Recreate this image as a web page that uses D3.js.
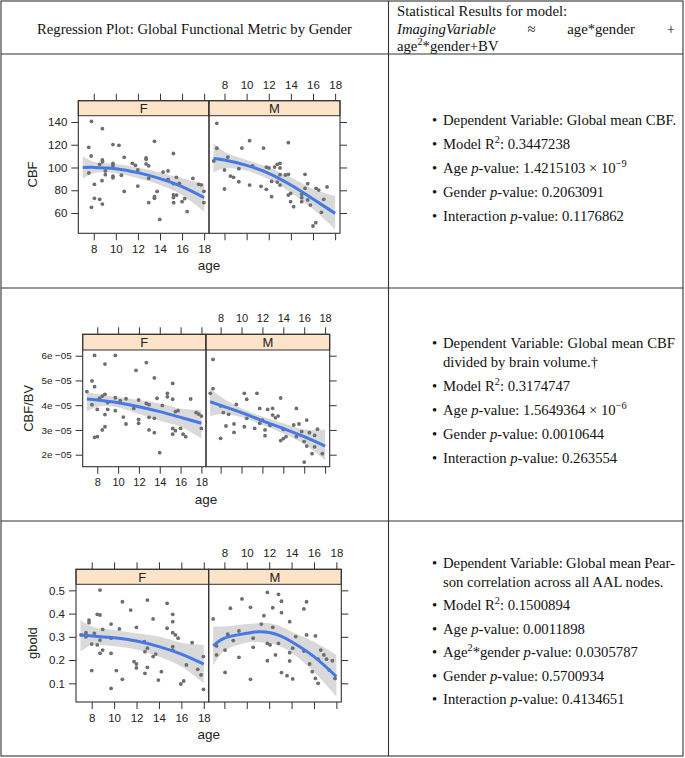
<!DOCTYPE html>
<html><head><meta charset="utf-8">
<script src="https://cdn.jsdelivr.net/npm/d3@7"></script>
<style>body{margin:0;background:#fff}svg{display:block}</style>
</head><body>
<svg id="c" width="685" height="758"></svg>
<script>
// ---------------- DATA ----------------
const genders = ["F", "M"];
const xTicks = [8, 10, 12, 14, 16, 18];
const cbfTicks = [60, 80, 100, 120, 140];
const cbfbvTicks = [2e-5, 3e-5, 4e-5, 5e-5, 6e-5];
const gboldTicks = [0.1, 0.2, 0.3, 0.4, 0.5];

// Panel 1: CBF [age, value]
const cbfF = [[7.79,140.6],[7.55,117.7],[7.76,110.1],[7.55,95.2],[8.06,85.2],[7.79,65],[8.06,72.9],[8.54,72],[8.78,134.1],[8.78,106.6],[8.8,105],[8.54,102.8],[8.75,88.4],[8.78,67.9],[9.05,97],[9.05,93.7],[9.74,120.1],[10.28,119.5],[9.74,103.7],[9.74,101.8],[9.74,92.5],[9.74,91],[10.5,93.2],[10.76,108.9],[10.76,79],[11.5,103.7],[11.78,101.9],[11.99,97.8],[11.99,83.7],[12.74,108.4],[12.74,107.2],[12.74,103.1],[12.98,101.5],[12.98,90.5],[12.98,69.2],[13.5,123],[13.5,74.3],[13.5,72.9],[13.74,79],[13.98,54.4],[14.28,96],[14.73,97],[14.73,89.6],[15.22,112.3],[15.22,85.8],[15.22,76],[15.22,73.6],[15.24,69.1],[15.48,91.4],[15.5,75.8],[15.75,86.1],[16,70],[16.24,72.7],[16.46,61.3],[16.98,90.4],[17.5,85.2],[17.74,84.8],[17.98,79.1],[17.98,69.2]];
const cbfM = [[7.31,138.8],[7.31,116.9],[7.03,105.7],[8.3,109.2],[8.0,97.8],[8.0,81.1],[8.54,92.5],[8.82,91.4],[9.3,87.5],[9.57,117.1],[9.3,99],[10.27,123.6],[10.27,84.6],[10.54,101.3],[11.3,83.5],[11.53,117.1],[11.78,100.4],[11.78,80.8],[12.02,99.6],[12.26,87.8],[12.26,74.4],[12.53,100.4],[12.77,102.8],[12.77,87.2],[13.02,103.7],[13.02,99.6],[13.02,93.7],[13.02,84.6],[13.5,93.4],[13.77,121.8],[13.77,94],[13.77,75.8],[13.98,77.3],[13.98,70],[14.25,65.6],[14.98,76.4],[14.98,73.5],[14.98,70],[15.28,94],[15.28,81.7],[15.52,85.8],[15.52,71.5],[15.76,67],[16.28,81.7],[16.52,80.2],[16.0,48.6],[16.25,51.5],[16.76,60.6],[16.97,72],[17.27,82.9]];
const fitAge = [7, 8, 10, 12, 14, 16, 18];
const cbfFitF = [99.9, 100.1, 99.0, 95.5, 90.2, 83.2, 73.5];
const cbfLoF  = [89.9, 95.0, 95.0, 90.5, 84.6, 75.8, 61.2];
const cbfHiF  = [109.8, 105.0, 103.0, 100.0, 95.7, 90.5, 85.5];
const cbfFitM = [108.0, 106.6, 101.9, 94.9, 84.6, 72.3, 59.7];
const cbfLoM  = [95.5, 99.3, 97.2, 89.6, 77.9, 63.5, 45.6];
const cbfHiM  = [121.2, 113.9, 106.6, 100.1, 91.4, 81.1, 75.0];

// Panel 2: CBF/BV [age, value]
const cbfbvF = [[7.0,4.55e-5],[7.49,4.98e-5],[7.74,4.75e-5],[7.49,4.02e-5],[7.74,6.01e-5],[8.0,3.83e-5],[7.74,2.70e-5],[8.0,2.73e-5],[8.22,4.28e-5],[8.48,4.37e-5],[8.74,4.44e-5],[8.74,5.66e-5],[8.74,3.62e-5],[8.74,3.13e-5],[8.48,3.0e-5],[9.0,3.83e-5],[9.0,4.1e-5],[9.73,6.01e-5],[9.73,4.3e-5],[9.73,3.78e-5],[10.2,4.18e-5],[10.76,4.26e-5],[10.5,3.52e-5],[10.76,3.24e-5],[11.5,3.87e-5],[11.72,5.41e-5],[11.97,4.21e-5],[11.97,3.43e-5],[11.97,3.27e-5],[12.71,5.72e-5],[12.71,4.07e-5],[12.97,4.02e-5],[12.97,3.51e-5],[12.97,3.0e-5],[13.48,5.1e-5],[13.48,3.47e-5],[13.48,2.89e-5],[13.74,4.28e-5],[13.99,2.08e-5],[14.25,3.99e-5],[14.73,4.48e-5],[14.73,4.34e-5],[15.24,4.88e-5],[15.24,4.24e-5],[15.24,3.06e-5],[15.24,2.83e-5],[15.5,3.74e-5],[15.76,3.78e-5],[15.5,2.97e-5],[16.0,3.06e-5],[16.24,2.83e-5],[16.49,2.73e-5],[16.97,4.25e-5],[17.49,3.7e-5],[17.74,3.64e-5],[18.0,3.56e-5],[18.0,3.06e-5]];
const cbfbvM = [[7.27,5.85e-5],[7.27,4.67e-5],[7.01,4.48e-5],[8.0,3.97e-5],[8.0,2.66e-5],[8.26,3.7e-5],[8.51,3.16e-5],[8.77,3.63e-5],[9.28,3.24e-5],[9.28,2.9e-5],[9.5,4.03e-5],[10.27,4.48e-5],[10.27,3.13e-5],[10.5,4.24e-5],[10.5,3.47e-5],[11.26,3.06e-5],[11.48,4.48e-5],[11.74,3.87e-5],[11.74,3.27e-5],[12.0,3.4e-5],[12.25,3.0e-5],[12.25,2.77e-5],[12.5,3.83e-5],[12.73,3.19e-5],[12.98,3.87e-5],[12.98,3.6e-5],[13.24,3.49e-5],[13.5,3.56e-5],[13.75,4.29e-5],[13.75,2.57e-5],[14.0,2.65e-5],[14.26,2.73e-5],[14.0,3.02e-5],[15.0,3.2e-5],[15.25,3.87e-5],[15.25,2.73e-5],[15.5,3.24e-5],[15.76,2.93e-5],[15.99,2.53e-5],[16.24,3.4e-5],[16.24,2.35e-5],[16.5,2.89e-5],[16.0,1.70e-5],[16.75,2.04e-5],[17.0,2.78e-5],[17.27,3.03e-5],[17.0,2.32e-5],[17.74,2.04e-5]];
const cbfbvFitF = [4.25e-5, 4.21e-5, 4.10e-5, 3.94e-5, 3.74e-5, 3.51e-5, 3.27e-5];
const cbfbvLoF  = [3.74e-5, 3.94e-5, 3.91e-5, 3.64e-5, 3.37e-5, 3.13e-5, 2.66e-5];
const cbfbvHiF  = [4.55e-5, 4.44e-5, 4.32e-5, 4.21e-5, 4.07e-5, 3.87e-5, 3.80e-5];
const cbfbvFitM = [4.14e-5, 3.99e-5, 3.70e-5, 3.37e-5, 3.06e-5, 2.73e-5, 2.35e-5];
const cbfbvLoM  = [3.54e-5, 3.64e-5, 3.51e-5, 3.20e-5, 2.86e-5, 2.43e-5, 1.78e-5];
const cbfbvHiM  = [4.68e-5, 4.34e-5, 3.87e-5, 3.54e-5, 3.27e-5, 3.02e-5, 3.02e-5];

// Panel 3: gbold [age, value]
const gboldF = [[7.05,0.308],[7.49,0.30],[7.49,0.318],[7.76,0.372],[7.76,0.361],[8.0,0.269],[8.0,0.155],[8.24,0.315],[8.5,0.397],[8.74,0.501],[8.74,0.394],[8.74,0.286],[8.5,0.265],[8.74,0.229],[8.98,0.332],[8.98,0.243],[9.73,0.355],[9.73,0.294],[9.73,0.229],[9.73,0.078],[10.2,0.155],[10.47,0.334],[10.74,0.451],[10.74,0.117],[11.48,0.415],[11.78,0.193],[11.99,0.341],[11.99,0.183],[11.99,0.166],[12.7,0.279],[12.97,0.458],[12.75,0.236],[12.97,0.251],[12.75,0.143],[12.97,0.169],[13.48,0.377],[13.48,0.215],[13.71,0.226],[13.95,0.114],[14.22,0.15],[14.73,0.444],[14.73,0.337],[15.23,0.397],[15.23,0.365],[15.23,0.318],[15.23,0.258],[15.23,0.243],[15.47,0.308],[15.71,0.294],[15.95,0.097],[16.21,0.11],[16.45,0.179],[16.96,0.275],[17.46,0.16],[17.76,0.136],[17.97,0.215],[17.97,0.074]];
const gboldM = [[7.0,0.377],[7.3,0.261],[7.3,0.222],[8.06,0.243],[8.06,0.147],[8.3,0.311],[8.54,0.423],[8.79,0.284],[9.3,0.325],[9.3,0.212],[9.57,0.463],[10.33,0.427],[10.33,0.117],[10.57,0.294],[10.57,0.255],[11.3,0.355],[11.53,0.391],[11.84,0.491],[11.84,0.272],[11.84,0.197],[12.08,0.265],[12.32,0.425],[12.32,0.341],[12.56,0.222],[12.83,0.483],[12.83,0.272],[13.1,0.453],[13.1,0.404],[13.1,0.146],[13.59,0.133],[13.83,0.365],[13.83,0.232],[13.83,0.196],[14.1,0.251],[14.1,0.119],[14.37,0.301],[15.1,0.42],[15.1,0.239],[15.34,0.451],[15.34,0.308],[15.61,0.183],[15.85,0.15],[16.13,0.304],[16.13,0.121],[16.37,0.204],[16.37,0.1],[16.61,0.243],[16.88,0.222],[17.12,0.204],[17.64,0.197],[17.88,0.121],[17.37,0.157]];
const gboldFitF = [0.308, 0.304, 0.296, 0.282, 0.258, 0.226, 0.183];
const gboldLoF  = [0.236, 0.265, 0.260, 0.246, 0.215, 0.172, 0.100];
const gboldHiF  = [0.372, 0.344, 0.329, 0.315, 0.301, 0.275, 0.265];
const fitAgeM3  = [7, 8, 10, 11, 12, 13, 14, 16, 18];
const gboldFitM = [0.261, 0.294, 0.315, 0.322, 0.319, 0.304, 0.279, 0.215, 0.129];
const gboldLoM  = [0.175, 0.240, 0.275, 0.277, 0.272, 0.258, 0.232, 0.150, 0.043];
const gboldHiM  = [0.344, 0.344, 0.355, 0.358, 0.358, 0.345, 0.322, 0.279, 0.222];

// Table text
const headerLeft = "Regression Plot: Global Functional Metric by Gender";
const headerRight1 = "Statistical Results for model:";
const headerRight2 = ["_ImagingVariable_", "≈", "age*gender", "+"];
const headerRight3 = "age^2^*gender+BV";
const statsCBF = ["Dependent Variable: Global mean CBF.", "Model R^2^: 0.3447238", "Age _p_-value: 1.4215103 × 10^−9^", "Gender _p_-value: 0.2063091", "Interaction _p_-value: 0.1176862"];
const statsCBFBV = [["Dependent Variable: Global mean CBF", "divided by brain volume.†"], "Model R^2^: 0.3174747", "Age _p_-value: 1.5649364 × 10^−6^", "Gender _p_-value: 0.0010644", "Interaction _p_-value: 0.263554"];
const statsGbold = [["Dependent Variable: Global mean Pear-", "son correlation across all AAL nodes."], "Model R^2^: 0.1500894", "Age _p_-value: 0.0011898", "Age^2^*gender _p_-value: 0.0305787", "Gender _p_-value: 0.5700934", "Interaction _p_-value: 0.4134651"];

// ---------------- DRAWING ----------------
const svg = d3.select("#c");
const SERIF = "'Liberation Serif','Times New Roman',serif";
const SANS = "'Liberation Sans',Arial,Helvetica,sans-serif";
const FS = 14.7;
svg.append("rect").attr("width", 685).attr("height", 758).attr("fill", "#fff");

// table grid
const tbl = svg.append("g").attr("stroke", "#333").attr("stroke-width", 1.1).attr("fill", "none");
tbl.append("rect").attr("x", 1).attr("y", 1).attr("width", 682).attr("height", 755);
[54, 288, 521].forEach(yy => tbl.append("line").attr("x1", 1).attr("x2", 683).attr("y1", yy).attr("y2", yy));
tbl.append("line").attr("x1", 388.5).attr("x2", 388.5).attr("y1", 1).attr("y2", 756);

// rich text: _x_ italic, ^x^ superscript
function rich(sel, str, fs) {
  const parts = str.split(/(_[^_]+_|\^[^^]+\^)/).filter(s => s.length);
  let shifted = 0;
  parts.forEach(p => {
    const t = sel.append("tspan");
    if (p[0] === "_") { t.text(p.slice(1, -1)).attr("font-style", "italic"); if (shifted) { t.attr("dy", shifted); shifted = 0; } }
    else if (p[0] === "^") { t.text(p.slice(1, -1)).attr("font-size", fs * 0.7).attr("dy", -fs * 0.38); shifted = fs * 0.38; }
    else { t.text(p); if (shifted) { t.attr("dy", shifted); shifted = 0; } }
  });
}
function textLine(x, y, str, fs) {
  const t = svg.append("text").attr("x", x).attr("y", y).attr("font-family", SERIF).attr("font-size", fs).attr("fill", "#111");
  rich(t, str, fs);
  return t;
}
function justified(x0, x1, y, words, fs) {
  const els = words.map(w => textLine(0, y, w, fs));
  const widths = els.map(e => e.node().getComputedTextLength());
  const total = d3.sum(widths);
  const gap = (x1 - x0 - total) / (words.length - 1);
  let x = x0;
  els.forEach((e, i) => { e.attr("x", x); x += widths[i] + gap; });
}

// header
svg.append("text").attr("x", 194.5).attr("y", 33.5).attr("text-anchor", "middle")
  .attr("font-family", SERIF).attr("font-size", FS).attr("fill", "#111").text(headerLeft);
textLine(397, 16, headerRight1, FS);
justified(397, 675, 33.5, headerRight2, FS);
textLine(397, 50.5, headerRight3, FS);

// bullet lists
function bullets(items, firstCenter, gapItem, gapWrap) {
  let yc = firstCenter;
  items.forEach(it => {
    svg.append("text").attr("x", 432).attr("y", yc + 5).attr("font-family", SERIF).attr("font-size", FS).attr("fill", "#111").text("•");
    if (Array.isArray(it)) {
      justified(443, 675, yc + 5, it[0].split(" "), FS);
      yc += gapWrap;
      textLine(443, yc + 5, it[1], FS);
    } else {
      textLine(443, yc + 5, it, FS);
    }
    yc += gapItem;
  });
}
bullets(statsCBF, 119.5, 24, 18.5);
bullets(statsCBFBV, 343, 24, 18.5);
bullets(statsGbold, 563, 23.5, 18.5);

// ---------------- PANELS ----------------
const xDomain = [6.6, 18.44];
let clipN = 0;
function zip(ages, fit, lo, hi) { return ages.map((a, i) => ({ age: a, fit: fit[i], lo: lo[i], hi: hi[i] })); }

function drawPanel(c) {
  const top = c.top, pt = c.top + c.strip, bot = c.bottom;
  const y = d3.scaleLinear().domain(c.yDomain).range([bot, pt]);
  const xs = {
    F: d3.scaleLinear().domain(xDomain).range([c.left, c.mid]),
    M: d3.scaleLinear().domain(xDomain).range([c.mid, c.right])
  };
  const ext = { F: [c.left, c.mid], M: [c.mid, c.right] };
  genders.forEach(gk => {
    const x = xs[gk];
    const [l, r] = ext[gk];
    const pg = svg.append("g");
    const id = "clip" + (clipN++);
    pg.append("clipPath").attr("id", id).append("rect").attr("x", l).attr("y", pt).attr("width", r - l).attr("height", bot - pt);
    const inner = pg.append("g").attr("clip-path", `url(#${id})`);
    const rows = c.fits[gk];
    inner.append("path").datum(rows).attr("fill", "#cfcfcf").attr("fill-opacity", 0.8)
      .attr("d", d3.area().x(d => x(d.age)).y0(d => y(d.lo)).y1(d => y(d.hi)).curve(d3.curveCatmullRom));
    inner.selectAll("circle").data(c.pts[gk]).join("circle")
      .attr("cx", d => x(d[0])).attr("cy", d => y(d[1])).attr("r", 1.9).attr("fill", "#6e6e6e");
    inner.append("path").datum(rows).attr("fill", "none").attr("stroke", "#4579e6").attr("stroke-width", 3)
      .attr("d", d3.line().x(d => x(d.age)).y(d => y(d.fit)).curve(d3.curveCatmullRom));
    // strip
    pg.append("rect").attr("x", l).attr("y", top).attr("width", r - l).attr("height", c.strip)
      .attr("fill", "#fde4c9").attr("stroke", "#333").attr("stroke-width", 1);
    pg.append("text").attr("x", (l + r) / 2).attr("y", top + c.strip / 2 + 4.8).attr("text-anchor", "middle")
      .attr("font-family", SANS).attr("font-size", 13).attr("fill", "#222").text(gk);
    pg.append("rect").attr("x", l).attr("y", top).attr("width", r - l).attr("height", bot - top)
      .attr("fill", "none").attr("stroke", "#333").attr("stroke-width", 1.1);
    // axes
    const style = a => {
      a.select(".domain").remove();
      a.selectAll("line").attr("stroke", "#333");
      a.selectAll("text").attr("font-family", SANS).attr("font-size", c.fs).attr("fill", "#222");
    };
    const bottomAx = d3.axisBottom(x).tickValues(xTicks).tickSize(7).tickPadding(5);
    const topAx = d3.axisTop(x).tickValues(xTicks).tickSize(7).tickPadding(5);
    if (gk === "M") bottomAx.tickFormat(""); else topAx.tickFormat("");
    svg.append("g").attr("transform", `translate(0,${bot})`).call(bottomAx).call(style);
    svg.append("g").attr("transform", `translate(0,${top})`).call(topAx).call(style);
  });
  const leftAx = d3.axisLeft(y).tickValues(c.yTicks).tickFormat(c.fmt).tickSize(7).tickPadding(4);
  const rightAx = d3.axisRight(y).tickValues(c.yTicks).tickFormat("").tickSize(7);
  const sty = a => { a.select(".domain").remove(); a.selectAll("line").attr("stroke", "#333");
    a.selectAll("text").attr("font-family", SANS).attr("font-size", c.yfs || c.fs).attr("fill", "#222"); };
  svg.append("g").attr("transform", `translate(${c.left},0)`).call(leftAx).call(sty);
  svg.append("g").attr("transform", `translate(${c.right},0)`).call(rightAx).call(sty);
  svg.append("text").attr("x", c.mid).attr("y", bot + 37).attr("text-anchor", "middle")
    .attr("font-family", SANS).attr("font-size", 13.5).attr("fill", "#222").text("age");
  svg.append("text").attr("transform", `translate(${c.ylabX},${(pt + bot) / 2}) rotate(-90)`).attr("text-anchor", "middle")
    .attr("font-family", SANS).attr("font-size", 13).attr("fill", "#222").text(c.ylab);
}

drawPanel({ top: 100.7, strip: 15, bottom: 233.3, left: 78.3, mid: 209, right: 340, fs: 11.5, ylabX: 37,
  yDomain: [42.2, 145.5], yTicks: cbfTicks, fmt: d3.format("d"), ylab: "CBF",
  pts: { F: cbfF, M: cbfM },
  fits: { F: zip(fitAge, cbfFitF, cbfLoF, cbfHiF), M: zip(fitAge, cbfFitM, cbfLoM, cbfHiM) } });
drawPanel({ top: 334.3, strip: 15.7, bottom: 466.7, left: 82.7, mid: 206, right: 329.7, fs: 11, yfs: 9.8, ylabX: 33,
  yDomain: [1.515e-5, 6.23e-5], yTicks: cbfbvTicks, fmt: d => Math.round(d * 1e5) + "e −05", ylab: "CBF/BV",
  pts: { F: cbfbvF, M: cbfbvM },
  fits: { F: zip(fitAge, cbfbvFitF, cbfbvLoF, cbfbvHiF), M: zip(fitAge, cbfbvFitM, cbfbvLoM, cbfbvHiM) } });
drawPanel({ top: 569.3, strip: 15, bottom: 702, left: 76, mid: 208.7, right: 341.3, fs: 11.5, ylabX: 37,
  yDomain: [0.0196, 0.526], yTicks: gboldTicks, fmt: d3.format(".1f"), ylab: "gbold",
  pts: { F: gboldF, M: gboldM },
  fits: { F: zip(fitAge, gboldFitF, gboldLoF, gboldHiF), M: zip(fitAgeM3, gboldFitM, gboldLoM, gboldHiM) } });
</script></body></html>
